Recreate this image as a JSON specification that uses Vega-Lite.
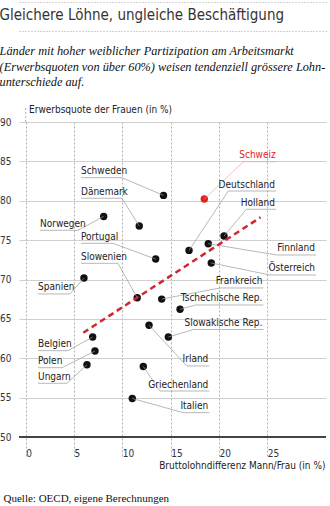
{
  "$schema": "https://vega.github.io/schema/vega-lite/v6.json",
  "width": 307,
  "height": 334,
  "autosize": {"type": "none"},
  "padding": {"left": 19, "top": 122, "right": 4, "bottom": 50},
  "background": "white",
  "title": {
    "text": "Gleichere Löhne, ungleiche Beschäftigung",
    "subtitle": ["Länder mit hoher weiblicher Partizipation am Arbeitsmarkt", "(Erwerbsquoten von über 60%) weisen tendenziell grössere Lohn-", "unterschiede auf."],
    "anchor": "start",
    "frame": "bounds",
    "offset": -86.5,
    "font": "Liberation Sans Narrow, DejaVu Sans Condensed, sans-serif",
    "fontSize": 15,
    "fontWeight": "normal",
    "color": "#333333",
    "subtitleFont": "Liberation Serif, serif",
    "subtitleFontStyle": "italic",
    "subtitleFontSize": 12.3,
    "subtitleColor": "#111111",
    "subtitleLineHeight": 15.5,
    "subtitlePadding": 22
  },
  "config": {
    "view": {"stroke": null},
    "axis": {"labelFont": "Liberation Sans Narrow, DejaVu Sans Condensed, sans-serif", "titleFont": "Liberation Sans Narrow, DejaVu Sans Condensed, sans-serif"},
    "text": {"font": "Liberation Sans Narrow, DejaVu Sans Condensed, sans-serif"}
  },
  "data": {
    "values": [
      {"country": "Schweden", "x": 14.26, "y": 80.68, "ex": 9.96, "ly": 82.93, "ux1": 5.72, "ux2": 9.96, "side": "left"},
      {"country": "Dänemark", "x": 11.75, "y": 76.79, "ex": 9.96, "ly": 80.32, "ux1": 5.72, "ux2": 9.96, "side": "left"},
      {"country": "Norwegen", "x": 8.07, "y": 78.01, "ex": 5.41, "ly": 76.25, "ux1": 1.48, "ux2": 5.41, "side": "left"},
      {"country": "Portugal", "x": 13.45, "y": 72.6, "ex": 9.03, "ly": 74.6, "ux1": 5.72, "ux2": 9.03, "side": "left"},
      {"country": "Slowenien", "x": 11.54, "y": 67.69, "ex": 9.55, "ly": 72.06, "ux1": 5.72, "ux2": 9.55, "side": "left"},
      {"country": "Spanien", "x": 6.03, "y": 70.19, "ex": 4.58, "ly": 68.17, "ux1": 1.28, "ux2": 4.58, "side": "left"},
      {"country": "Belgien", "x": 6.93, "y": 62.7, "ex": 4.38, "ly": 60.97, "ux1": 1.28, "ux2": 4.38, "side": "left"},
      {"country": "Polen", "x": 7.17, "y": 60.92, "ex": 3.76, "ly": 58.81, "ux1": 1.28, "ux2": 3.76, "side": "left"},
      {"country": "Ungarn", "x": 6.34, "y": 59.18, "ex": 4.27, "ly": 56.83, "ux1": 1.28, "ux2": 4.27, "side": "left"},
      {"country": "Schweiz", "x": 18.48, "y": 80.22, "ex": 22.52, "ly": 84.96, "ux1": 22.52, "ux2": 25.97, "side": "right"},
      {"country": "Deutschland", "x": 16.9, "y": 73.7, "ex": 20.96, "ly": 81.24, "ux1": 20.96, "ux2": 25.9, "side": "right"},
      {"country": "Holland", "x": 20.52, "y": 75.52, "ex": 22.83, "ly": 78.92, "ux1": 22.83, "ux2": 25.9, "side": "right"},
      {"country": "Finnland", "x": 18.89, "y": 74.55, "ex": 25.97, "ly": 73.12, "ux1": 25.97, "ux2": 30.04, "side": "right"},
      {"country": "Österreich", "x": 19.2, "y": 72.1, "ex": 25.28, "ly": 70.58, "ux1": 25.28, "ux2": 30.04, "side": "right"},
      {"country": "Frankreich", "x": 14.07, "y": 67.52, "ex": 20.11, "ly": 68.93, "ux1": 20.11, "ux2": 24.59, "side": "right"},
      {"country": "Tschechische Rep.", "x": 15.97, "y": 66.23, "ex": 17.57, "ly": 66.77, "ux1": 17.57, "ux2": 24.59, "side": "right"},
      {"country": "Slowakische Rep.", "x": 14.76, "y": 62.7, "ex": 17.36, "ly": 63.66, "ux1": 17.36, "ux2": 24.59, "side": "right"},
      {"country": "Irland", "x": 12.76, "y": 64.2, "ex": 16.66, "ly": 59.03, "ux1": 16.66, "ux2": 19.0, "side": "right"},
      {"country": "Griechenland", "x": 12.17, "y": 58.97, "ex": 13.9, "ly": 55.85, "ux1": 13.9, "ux2": 19.0, "side": "right"},
      {"country": "Italien", "x": 11.03, "y": 54.9, "ex": 16.31, "ly": 53.1, "ux1": 16.31, "ux2": 19.0, "side": "right"}
    ]
  },
  "resolve": {"axis": {"x": "independent"}},
  "layer": [
    {
      "mark": {"type": "circle", "size": 55, "opacity": 1},
      "encoding": {
        "x": {
          "field": "x", "type": "quantitative",
          "scale": {"domain": [-0.69, 31.07], "nice": false, "zero": false},
          "axis": {
            "values": [0, 5, 10, 15, 20, 25],
            "grid": true, "gridColor": "#9a9a9a", "gridDash": [2, 2], "gridWidth": 0.8,
            "domain": false, "ticks": false, "tickSize": 0,
            "labelAlign": "left", "labelDx": 3, "labelBaseline": "middle", "labelPadding": -3,
            "labelFlush": false, "labelFontSize": 10, "labelColor": "#333333",
            "title": "Bruttolohndifferenz Mann/Frau (in %)",
            "titleX": 306, "titleY": 9, "titleAlign": "right", "titleBaseline": "middle",
            "titleFontSize": 10, "titleFontWeight": "normal", "titleColor": "#222222"
          }
        },
        "y": {
          "field": "y", "type": "quantitative",
          "scale": {"domain": [47.6, 90], "nice": false, "zero": false},
          "axis": {
            "values": [50, 55, 60, 65, 70, 75, 80, 85, 90],
            "grid": true, "gridColor": "#c4c4c4", "gridWidth": 0.8,
            "domain": false, "ticks": false, "tickSize": 0,
            "labelAlign": "right", "labelPadding": 8, "labelFontSize": 10, "labelColor": "#333333",
            "title": "Erwerbsquote der Frauen (in %)",
            "titleAngle": 0, "titleAlign": "left", "titleBaseline": "middle",
            "titleX": 9.5, "titleY": -13,
            "titleFontSize": 10, "titleFontWeight": "normal", "titleColor": "#222222"
          }
        },
        "color": {
          "condition": {"test": "datum.country === 'Schweiz'", "value": "#e2231a"},
          "value": "#111111"
        }
      }
    },
    {
      "data": {"values": [{}]},
      "mark": {"type": "rule", "color": "#444444", "strokeWidth": 2},
      "encoding": {"y": {"datum": 50}}
    },
    {
      "data": {"values": [{}]},
      "mark": {"type": "rule", "color": "#9a9a9a", "strokeWidth": 0.8, "strokeDash": [2, 2]},
      "encoding": {
        "x": {"datum": 0, "axis": {"orient": "top", "offset": 91, "labels": false, "ticks": false, "grid": false, "title": null, "domain": true, "domainColor": "#a8a8a8", "domainDash": [1, 2], "domainWidth": 1}},
        "y": {"datum": 90}, "y2": {"datum": 91.9}
      }
    },
    {
      "mark": {"type": "rule", "strokeWidth": 0.7},
      "encoding": {
        "x": {"field": "x", "type": "quantitative", "axis": null},
        "y": {"field": "y", "type": "quantitative"},
        "x2": {"field": "ex"},
        "y2": {"field": "ly"},
        "color": {
          "condition": {"test": "datum.country === 'Schweiz'", "value": "#f2a3a0"},
          "value": "#9a9a9a"
        }
      }
    },
    {
      "mark": {"type": "rule", "strokeWidth": 0.7},
      "encoding": {
        "x": {"field": "ux1", "type": "quantitative", "axis": {"orient": "top", "offset": 120, "labels": false, "ticks": false, "grid": false, "title": null, "domain": true, "domainColor": "#a8a8a8", "domainDash": [1, 2], "domainWidth": 1}},
        "x2": {"field": "ux2"},
        "y": {"field": "ly", "type": "quantitative"},
        "color": {
          "condition": {"test": "datum.country === 'Schweiz'", "value": "#f2a3a0"},
          "value": "#9a9a9a"
        }
      }
    },
    {
      "data": {"values": [{"x": 5.96, "y": 63.25}, {"x": 24.3, "y": 77.9}]},
      "mark": {"type": "line", "color": "#d0262d", "strokeWidth": 2.5, "strokeDash": [6, 4]},
      "encoding": {
        "x": {
          "field": "x", "type": "quantitative",
          "axis": {
            "orient": "top", "labels": false, "ticks": false, "domain": false, "grid": false,
            "title": "Quelle: OECD, eigene Berechnungen",
            "titleX": -16, "titleY": 376, "titleAlign": "left", "titleBaseline": "middle",
            "titleFont": "Liberation Serif, serif", "titleFontSize": 11, "titleFontWeight": "normal", "titleColor": "#111111"
          }
        },
        "y": {"field": "y", "type": "quantitative"}
      }
    },
    {
      "transform": [{"filter": "datum.side === 'left'"}],
      "mark": {"type": "text", "align": "left", "baseline": "alphabetic", "dy": -3.5, "fontSize": 10},
      "encoding": {
        "x": {"field": "ux1", "type": "quantitative", "axis": null},
        "y": {"field": "ly", "type": "quantitative"},
        "text": {"field": "country"},
        "color": {"value": "#222222"}
      }
    },
    {
      "transform": [{"filter": "datum.side === 'right'"}],
      "mark": {"type": "text", "align": "right", "baseline": "alphabetic", "dy": -3.5, "dx": -1, "fontSize": 10},
      "encoding": {
        "x": {"field": "ux2", "type": "quantitative", "axis": null},
        "y": {"field": "ly", "type": "quantitative"},
        "text": {"field": "country"},
        "color": {
          "condition": {"test": "datum.country === 'Schweiz'", "value": "#e2231a"},
          "value": "#222222"
        }
      }
    }
  ]
}
